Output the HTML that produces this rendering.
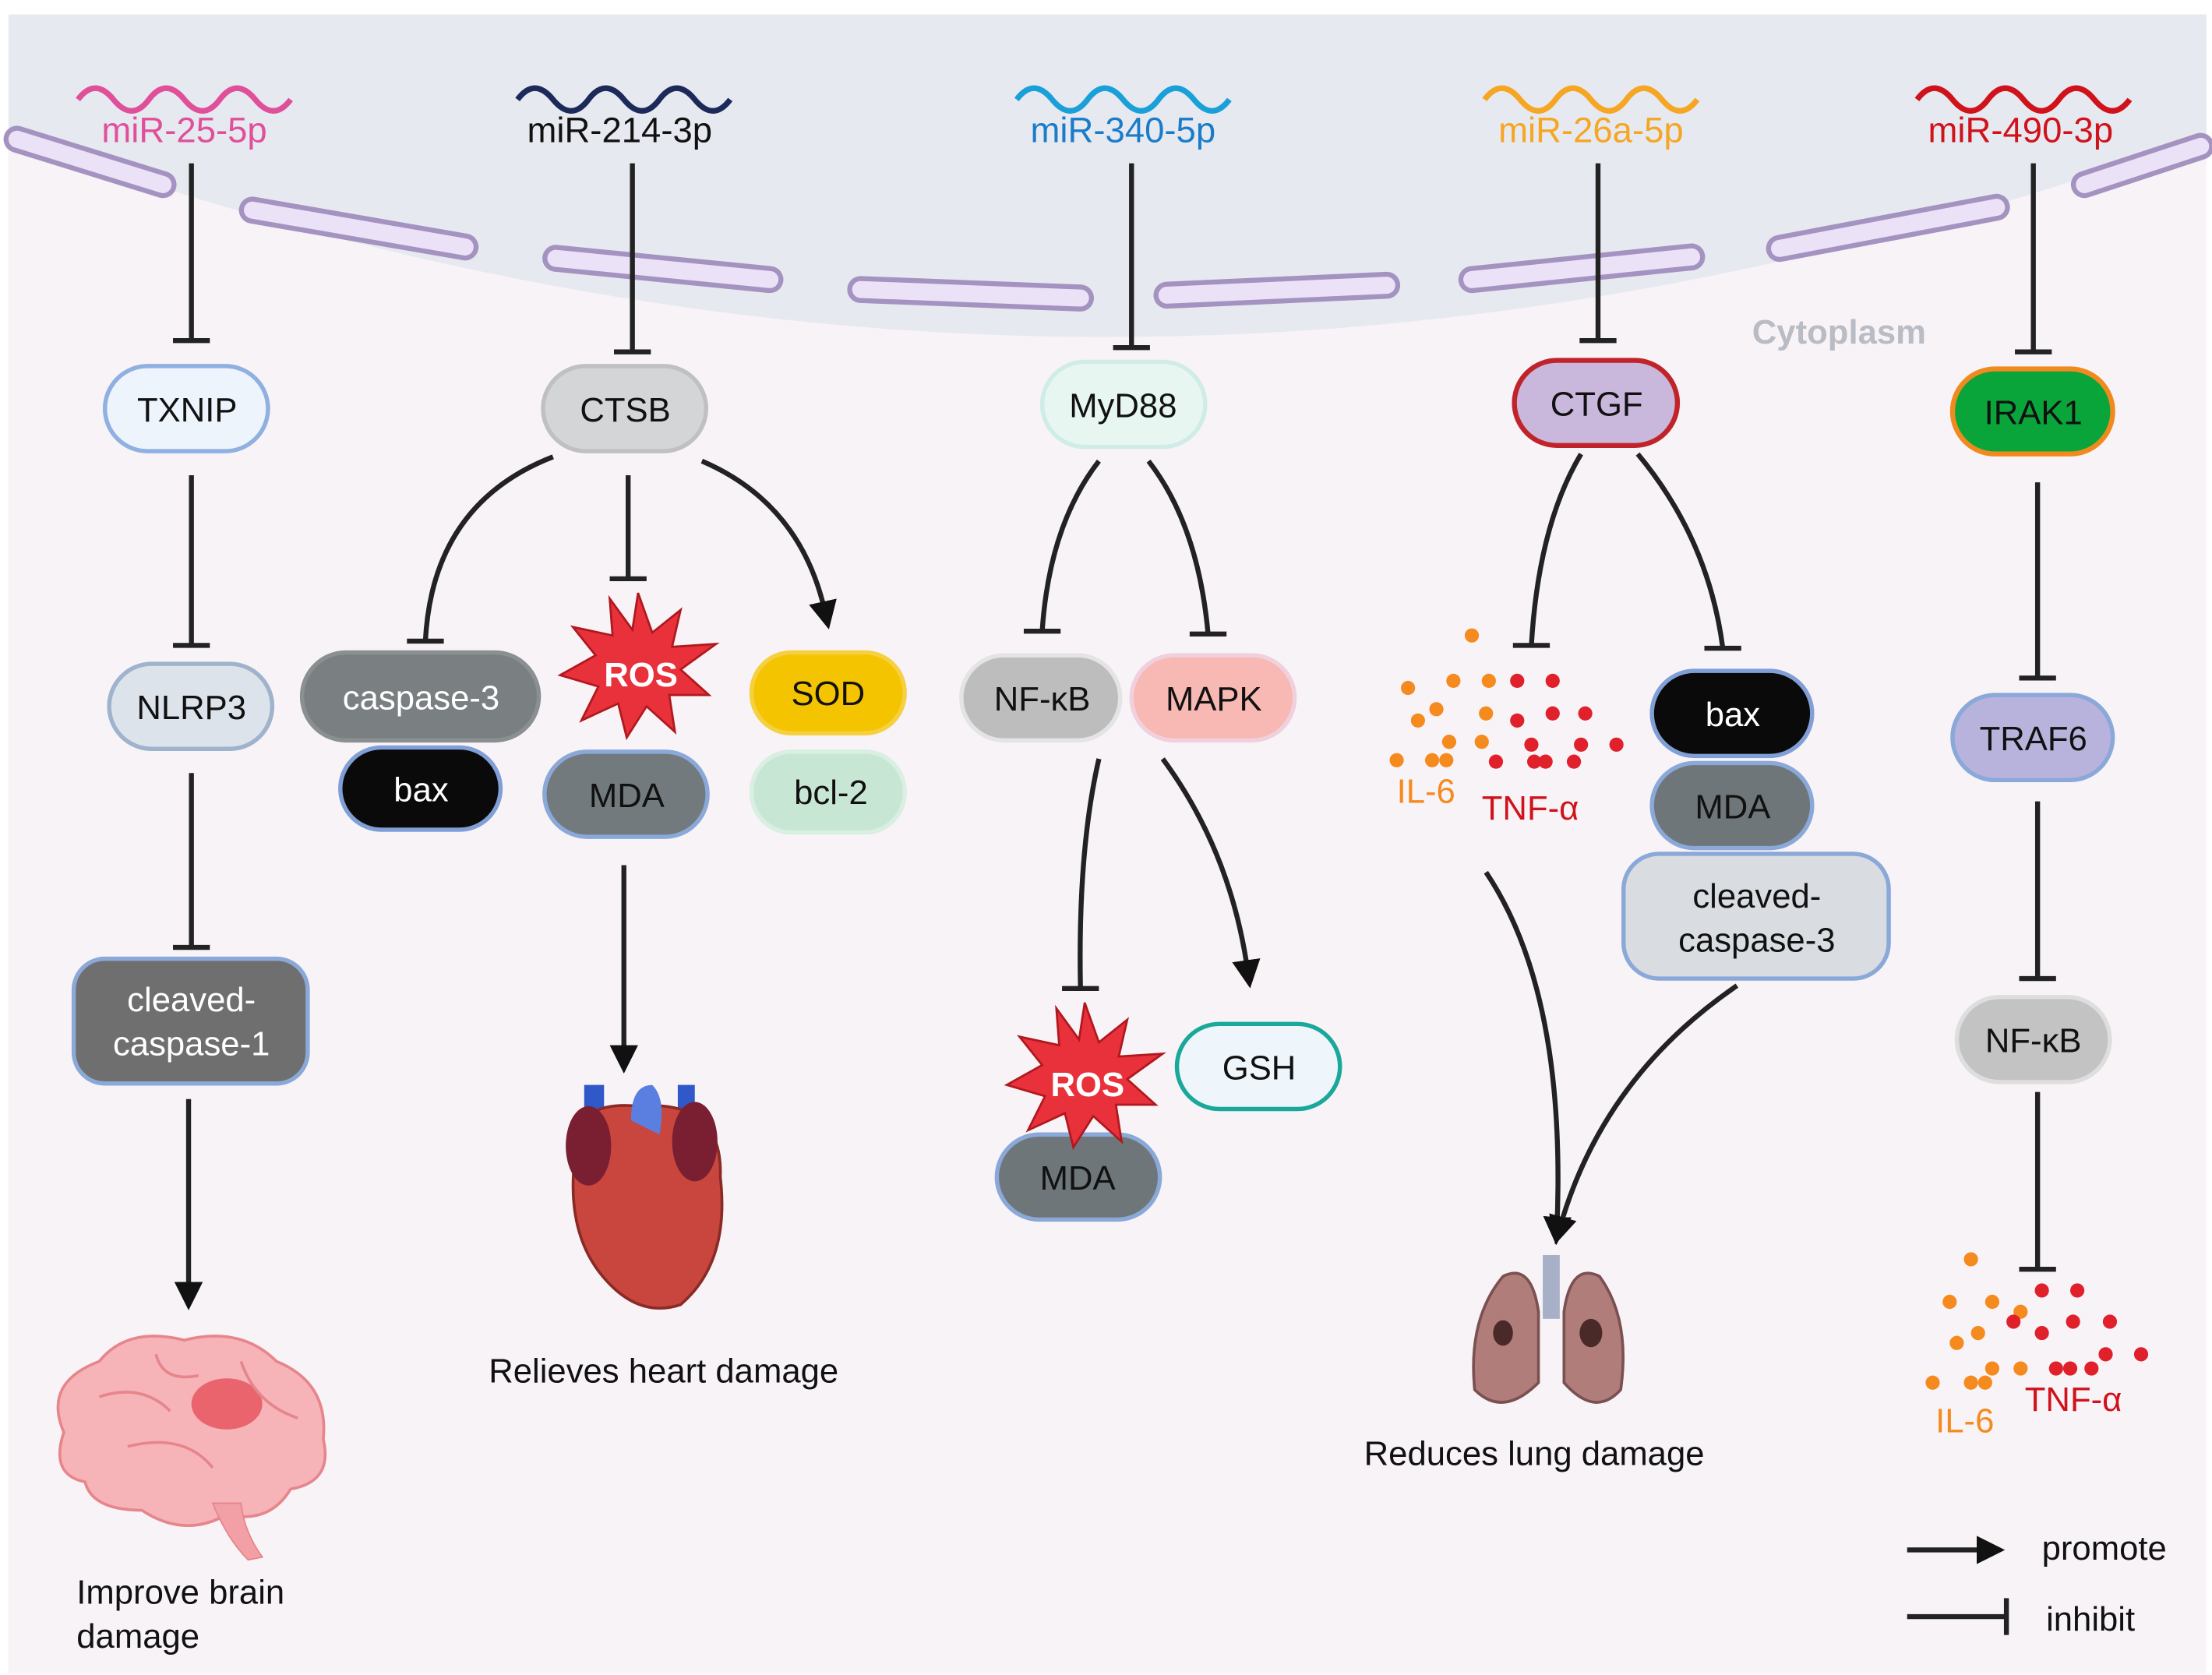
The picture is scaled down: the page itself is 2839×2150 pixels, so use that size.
<!DOCTYPE html>
<html><head><meta charset="utf-8"><style>html,body{margin:0;padding:0;background:#fff}svg{display:block}text{font-family:"Liberation Sans",sans-serif}</style></head>
<body>
<svg width="2839" height="2150" viewBox="0 0 1560 1181" xmlns="http://www.w3.org/2000/svg">
<defs>
<marker id="ar" markerWidth="20" markerHeight="20" refX="8" refY="10" orient="auto" markerUnits="userSpaceOnUse" viewBox="0 0 20 20"><path d="M0,0 L20,10 L0,20 z" fill="#111"/></marker>
</defs>
<rect x="0" y="0" width="1560" height="1181" fill="#fff"/>
<rect x="6" y="10" width="1550" height="1170" fill="#f8f3f7"/>
<path d="M6,10 H1556 V95 Q780,380 6,95 Z" fill="#e7e9f0"/>
<g stroke="#a493c0" stroke-width="19" stroke-linecap="round" fill="none">
<path d="M12,98 L115,130"/><path d="M178,148 L328,174"/><path d="M392,182 L543,197"/><path d="M607,204 L762,210"/><path d="M823,208 L978,201"/><path d="M1038,197 L1193,181"/><path d="M1255,175 L1408,146"/><path d="M1470,130 L1552,103"/>
</g>
<g stroke="#ece2f8" stroke-width="12" stroke-linecap="round" fill="none">
<path d="M12,98 L115,130"/><path d="M178,148 L328,174"/><path d="M392,182 L543,197"/><path d="M607,204 L762,210"/><path d="M823,208 L978,201"/><path d="M1038,197 L1193,181"/><path d="M1255,175 L1408,146"/><path d="M1470,130 L1552,103"/>
</g>
<g fill="none" stroke-width="4">
<path d="M55,70 q12,-16 25,0 t25,0 t25,0 t25,0 t25,0 t25,0" stroke="#e0509a"/>
<path d="M365,70 q12,-16 25,0 t25,0 t25,0 t25,0 t25,0 t25,0" stroke="#1c2a5a"/>
<path d="M717,70 q12,-16 25,0 t25,0 t25,0 t25,0 t25,0 t25,0" stroke="#1aa0d8"/>
<path d="M1047,70 q12,-16 25,0 t25,0 t25,0 t25,0 t25,0 t25,0" stroke="#f5a623"/>
<path d="M1352,70 q12,-16 25,0 t25,0 t25,0 t25,0 t25,0 t25,0" stroke="#d0121b"/>
</g>
<g font-size="25" text-anchor="middle">
<text x="130" y="100" fill="#e0509a">miR-25-5p</text>
<text x="437" y="100" fill="#111">miR-214-3p</text>
<text x="792" y="100" fill="#1a7cc8">miR-340-5p</text>
<text x="1122" y="100" fill="#f5a623">miR-26a-5p</text>
<text x="1425" y="100" fill="#d0121b">miR-490-3p</text>
</g>
<text x="1297" y="242" font-size="24" font-weight="bold" fill="#b9bcc4" text-anchor="middle">Cytoplasm</text>
<g stroke="#222" stroke-width="3.5" fill="none">
<path d="M135,115 V240 M122,240 H148"/>
<path d="M135,335 V455 M122,455 H148"/>
<path d="M135,545 V668 M122,668 H148"/>
<path d="M133,775 V912" marker-end="url(#ar)"/>
<path d="M446,115 V248 M433,248 H459"/>
<path d="M390,322 Q305,355 300,452 M287,452 H313"/>
<path d="M443,335 V408 M430,408 H456"/>
<path d="M495,325 Q565,355 582,432" marker-end="url(#ar)"/>
<path d="M440,610 V745" marker-end="url(#ar)"/>
<path d="M798,115 V245 M785,245 H811"/>
<path d="M775,325 Q740,370 735,445 M722,445 H748"/>
<path d="M810,325 Q845,370 852,447 M839,447 H865"/>
<path d="M775,535 Q760,600 762,697 M749,697 H775"/>
<path d="M820,535 Q868,600 880,685" marker-end="url(#ar)"/>
<path d="M1127,115 V240 M1114,240 H1140"/>
<path d="M1115,320 Q1085,370 1080,455 M1067,455 H1093"/>
<path d="M1155,320 Q1205,380 1215,457 M1202,457 H1228"/>
<path d="M1048,615 Q1105,700 1098,866" marker-end="url(#ar)"/>
<path d="M1225,695 Q1130,760 1100,866" marker-end="url(#ar)"/>
<path d="M1434,115 V248 M1421,248 H1447"/>
<path d="M1437,340 V478 M1424,478 H1450"/>
<path d="M1437,565 V690 M1424,690 H1450"/>
<path d="M1437,770 V895 M1424,895 H1450"/>
<path d="M1345,1093 H1402" marker-end="url(#ar)"/>
<path d="M1345,1140 H1415 M1415,1127 V1153"/>
</g>
<g stroke-width="3" font-size="24" text-anchor="middle">
<rect x="74" y="258" width="115" height="60" rx="30" fill="#eef4fb" stroke="#8fb0e0"/><text x="132" y="297" stroke="none" fill="#111">TXNIP</text>
<rect x="77" y="468" width="115" height="60" rx="30" fill="#dde3ea" stroke="#9fb3cc"/><text x="135" y="507" stroke="none" fill="#111">NLRP3</text>
<rect x="52" y="676" width="165" height="88" rx="22" fill="#6f6f6f" stroke="#8aa8d8"/><text x="135" y="713" stroke="none" fill="#fff">cleaved-</text><text x="135" y="744" stroke="none" fill="#fff">caspase-1</text>
<rect x="383" y="258" width="115" height="60" rx="30" fill="#d3d5d6" stroke="#c0c0c0"/><text x="441" y="297" stroke="none" fill="#111">CTSB</text>
<rect x="213" y="460" width="167" height="62" rx="31" fill="#7a7f82" stroke="#8a8f92"/><text x="297" y="500" stroke="none" fill="#fff">caspase-3</text>
<rect x="240" y="527" width="113" height="58" rx="29" fill="#0a0a0a" stroke="#7f9fd6"/><text x="297" y="565" stroke="none" fill="#fff">bax</text>
<rect x="384" y="530" width="115" height="60" rx="30" fill="#737a7d" stroke="#8aa8d8"/><text x="442" y="569" stroke="none" fill="#111">MDA</text>
<rect x="530" y="460" width="108" height="57" rx="28" fill="#f5c400" stroke="#f5d040"/><text x="584" y="497" stroke="none" fill="#111">SOD</text>
<rect x="530" y="530" width="108" height="57" rx="28" fill="#c8e6d4" stroke="#d8efe2"/><text x="586" y="567" stroke="none" fill="#111">bcl-2</text>
<rect x="735" y="255" width="115" height="60" rx="30" fill="#e8f6f2" stroke="#d0ece6"/><text x="792" y="294" stroke="none" fill="#111">MyD88</text>
<rect x="678" y="462" width="112" height="60" rx="30" fill="#bdbdbd" stroke="#e4e4e4"/><text x="735" y="501" stroke="none" fill="#111">NF-κB</text>
<rect x="798" y="462" width="115" height="60" rx="30" fill="#f8b8b4" stroke="#f0d0dc"/><text x="856" y="501" stroke="none" fill="#111">MAPK</text>
<rect x="830" y="722" width="115" height="60" rx="30" fill="#eef6fb" stroke="#1aa89a"/><text x="888" y="761" stroke="none" fill="#111">GSH</text>
<rect x="703" y="800" width="115" height="60" rx="30" fill="#6f7679" stroke="#8aa8d8"/><text x="760" y="839" stroke="none" fill="#111">MDA</text>
<rect x="1068" y="254" width="115" height="60" rx="30" fill="#c9b8dc" stroke="#c0242a" stroke-width="3.5"/><text x="1126" y="293" stroke="none" fill="#111">CTGF</text>
<rect x="1165" y="473" width="113" height="60" rx="30" fill="#0a0a0a" stroke="#7f9fd6"/><text x="1222" y="512" stroke="none" fill="#fff">bax</text>
<rect x="1165" y="538" width="113" height="60" rx="30" fill="#6f7679" stroke="#8aa8d8"/><text x="1222" y="577" stroke="none" fill="#111">MDA</text>
<rect x="1145" y="602" width="187" height="88" rx="25" fill="#d9dde2" stroke="#8aa8d8"/><text x="1239" y="640" stroke="none" fill="#111">cleaved-</text><text x="1239" y="671" stroke="none" fill="#111">caspase-3</text>
<rect x="1377" y="260" width="113" height="60" rx="30" fill="#0aa53a" stroke="#f08a1e" stroke-width="3.5"/><text x="1434" y="299" stroke="none" fill="#111">IRAK1</text>
<rect x="1377" y="490" width="113" height="60" rx="30" fill="#b8b3dd" stroke="#8aa8d8"/><text x="1434" y="529" stroke="none" fill="#111">TRAF6</text>
<rect x="1380" y="703" width="108" height="60" rx="30" fill="#c3c3c3" stroke="#dedede"/><text x="1434" y="742" stroke="none" fill="#111">NF-κB</text>
</g>
<g>
<polygon transform="translate(450,468)" points="0,-50 10,-22 30,-38 24,-12 55,-14 30,4 50,22 22,22 26,48 6,30 -8,52 -14,28 -40,40 -28,16 -55,8 -30,-6 -46,-26 -18,-20 -20,-46 -4,-24" fill="#e8313a" stroke="#b0181e" stroke-width="1.5"/>
<text x="452" y="484" font-size="24" font-weight="bold" fill="#fff" text-anchor="middle">ROS</text>
<polygon transform="translate(765,757)" points="0,-50 10,-22 30,-38 24,-12 55,-14 30,4 50,22 22,22 26,48 6,30 -8,52 -14,28 -40,40 -28,16 -55,8 -30,-6 -46,-26 -18,-20 -20,-46 -4,-24" fill="#e8313a" stroke="#b0181e" stroke-width="1.5"/>
<text x="767" y="773" font-size="24" font-weight="bold" fill="#fff" text-anchor="middle">ROS</text>
</g>
<g fill="#f58a1e">
<circle cx="1038" cy="448" r="5"/><circle cx="1025" cy="480" r="5"/><circle cx="1050" cy="480" r="5"/><circle cx="993" cy="485" r="5"/><circle cx="1013" cy="500" r="5"/><circle cx="1000" cy="508" r="5"/><circle cx="1048" cy="503" r="5"/><circle cx="1022" cy="523" r="5"/><circle cx="1045" cy="523" r="5"/><circle cx="985" cy="536" r="5"/><circle cx="1010" cy="536" r="5"/><circle cx="1020" cy="536" r="5"/>
<circle cx="1390" cy="888" r="5"/><circle cx="1375" cy="918" r="5"/><circle cx="1405" cy="918" r="5"/><circle cx="1395" cy="940" r="5"/><circle cx="1380" cy="947" r="5"/><circle cx="1425" cy="925" r="5"/><circle cx="1405" cy="965" r="5"/><circle cx="1363" cy="975" r="5"/><circle cx="1390" cy="975" r="5"/><circle cx="1400" cy="975" r="5"/><circle cx="1425" cy="965" r="5"/>
</g>
<g fill="#e0202a">
<circle cx="1070" cy="480" r="5"/><circle cx="1095" cy="480" r="5"/><circle cx="1070" cy="508" r="5"/><circle cx="1095" cy="503" r="5"/><circle cx="1118" cy="503" r="5"/><circle cx="1080" cy="525" r="5"/><circle cx="1115" cy="525" r="5"/><circle cx="1140" cy="525" r="5"/><circle cx="1055" cy="537" r="5"/><circle cx="1082" cy="537" r="5"/><circle cx="1090" cy="537" r="5"/><circle cx="1110" cy="537" r="5"/>
<circle cx="1440" cy="910" r="5"/><circle cx="1465" cy="910" r="5"/><circle cx="1420" cy="932" r="5"/><circle cx="1440" cy="940" r="5"/><circle cx="1462" cy="932" r="5"/><circle cx="1488" cy="932" r="5"/><circle cx="1485" cy="955" r="5"/><circle cx="1510" cy="955" r="5"/><circle cx="1450" cy="965" r="5"/><circle cx="1460" cy="965" r="5"/><circle cx="1475" cy="965" r="5"/>
</g>
<g font-size="24">
<text x="985" y="566" fill="#f58a1e">IL-6</text><text x="1045" y="578" fill="#d0121b">TNF-α</text>
<text x="1365" y="1010" fill="#f58a1e">IL-6</text><text x="1428" y="995" fill="#d0121b">TNF-α</text>
</g>
<g>
<path d="M45,1010 Q30,975 70,960 Q90,935 130,945 Q170,935 195,960 Q232,975 228,1015 Q235,1045 205,1050 Q190,1075 160,1068 Q130,1085 100,1065 Q65,1065 60,1045 Q35,1040 45,1010 Z" fill="#f6b4b8" stroke="#e6868c" stroke-width="2"/>
<ellipse cx="160" cy="990" rx="25" ry="18" fill="#e4424d" opacity="0.7"/>
<path d="M150,1060 Q160,1085 175,1100 L185,1098 Q172,1080 170,1060 Z" fill="#f2a0a6" stroke="#e6868c"/>
<path d="M70,985 Q100,975 120,995 M90,1020 Q130,1010 150,1035 M170,960 Q180,990 210,1000 M110,955 Q115,975 140,970" stroke="#e6868c" stroke-width="2" fill="none"/>
</g>
<text x="54" y="1131" font-size="24" fill="#111">Improve brain</text>
<text x="54" y="1162" font-size="24" fill="#111">damage</text>
<g>
<rect x="412" y="765" width="14" height="110" fill="#3058c8"/>
<rect x="478" y="765" width="12" height="70" fill="#3058c8"/>
<path d="M405,820 Q400,775 450,780 Q510,775 508,830 Q515,890 480,920 Q450,930 425,900 Q400,870 405,820 Z" fill="#c8463e" stroke="#8a2a26" stroke-width="2"/>
<path d="M445,790 Q445,765 460,765 Q470,775 465,800 Z" fill="#5a7fe0"/>
<ellipse cx="415" cy="808" rx="16" ry="28" fill="#7a1e32"/>
<ellipse cx="490" cy="805" rx="16" ry="28" fill="#7a1e32"/>
</g>
<text x="468" y="975" font-size="24" fill="#111" text-anchor="middle">Relieves heart damage</text>
<g>
<rect x="1088" y="885" width="12" height="45" fill="#a8b0c8"/>
<path d="M1085,925 Q1080,890 1060,900 Q1035,930 1040,980 Q1060,1000 1085,975 Z" fill="#b07d7a" stroke="#7a5050" stroke-width="2"/>
<path d="M1103,925 Q1108,890 1128,900 Q1150,930 1143,980 Q1125,1000 1103,975 Z" fill="#b07d7a" stroke="#7a5050" stroke-width="2"/>
<ellipse cx="1060" cy="940" rx="7" ry="9" fill="#4a2a28"/><ellipse cx="1122" cy="940" rx="8" ry="10" fill="#4a2a28"/>
</g>
<text x="1082" y="1033" font-size="24" fill="#111" text-anchor="middle">Reduces lung damage</text>
<text x="1440" y="1100" font-size="24" fill="#111">promote</text>
<text x="1443" y="1150" font-size="24" fill="#111">inhibit</text>
</svg>
</body></html>
